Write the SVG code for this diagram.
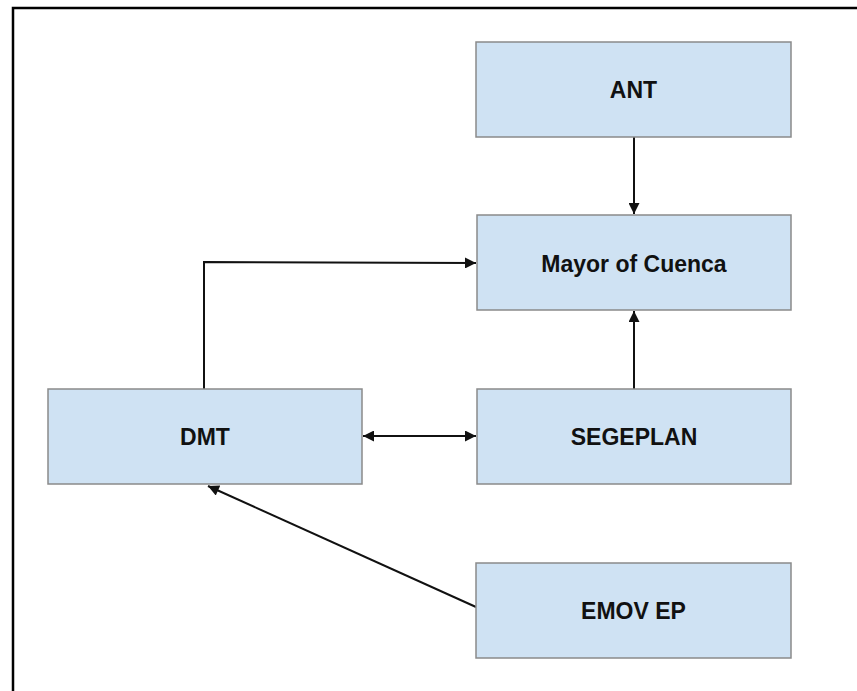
<svg xmlns="http://www.w3.org/2000/svg" width="857" height="691" viewBox="0 0 857 691">
<style>
.box{fill:#cfe2f3;stroke:#8a8a8a;stroke-width:1.5}
.lbl{font-family:"Liberation Sans",Arial,sans-serif;font-weight:bold;font-size:23px;fill:#111;text-anchor:middle}
.edge{fill:none;stroke:#111;stroke-width:2}
</style>
<defs>
<marker id="ah" viewBox="0 0 10 10" refX="10" refY="5" markerWidth="6.5" markerHeight="5.5" orient="auto-start-reverse" markerUnits="strokeWidth">
<path d="M0,0 L10,5 L0,10 z" fill="#111"/>
</marker>
</defs>
<rect x="0" y="0" width="857" height="691" fill="#fff"/>
<path d="M13,691 V8 H857" fill="none" stroke="#000" stroke-width="2.5"/>
<g id="connectors">
<path class="edge" d="M634,137 V214" marker-end="url(#ah)"/>
<path class="edge" d="M634,389 V311" marker-end="url(#ah)"/>
<path class="edge" d="M204,389 V262 L476,263" marker-end="url(#ah)"/>
<path class="edge" d="M363,436 H476" marker-start="url(#ah)" marker-end="url(#ah)"/>
<path class="edge" d="M476,607 L208,486" marker-end="url(#ah)"/>
</g>
<g id="ANT"><rect class="box" x="476" y="42" width="315" height="95"/><text class="lbl" x="633.5" y="98">ANT</text></g>
<g id="Mayor"><rect class="box" x="477" y="215" width="314" height="95"/><text class="lbl" x="634" y="271.5">Mayor of Cuenca</text></g>
<g id="DMT"><rect class="box" x="48" y="389" width="314" height="95"/><text class="lbl" x="205" y="445">DMT</text></g>
<g id="SEGEPLAN"><rect class="box" x="477" y="389" width="314" height="95"/><text class="lbl" x="634" y="445">SEGEPLAN</text></g>
<g id="EMOV"><rect class="box" x="476" y="563" width="315" height="95"/><text class="lbl" x="633.5" y="619">EMOV EP</text></g>
</svg>
